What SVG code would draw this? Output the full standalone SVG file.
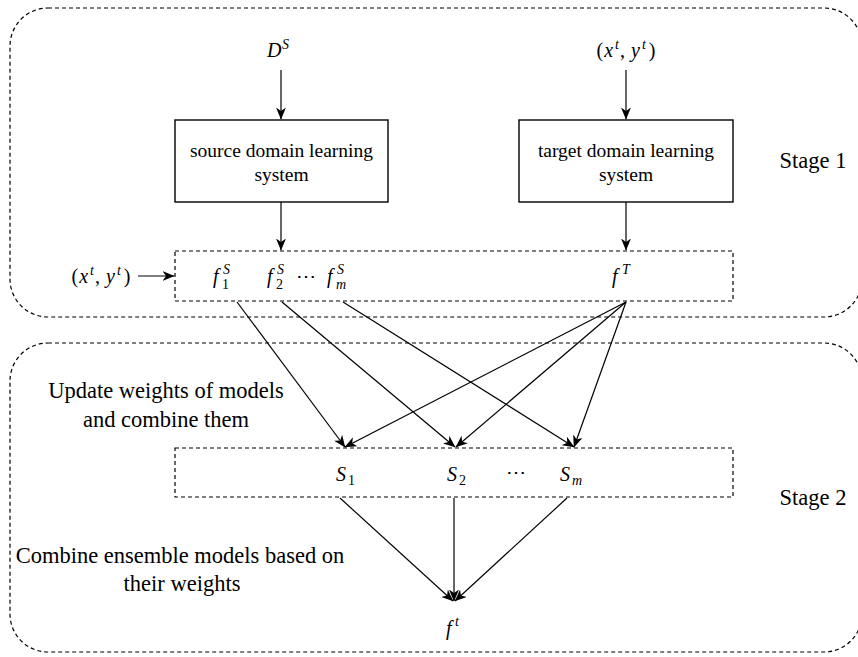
<svg xmlns="http://www.w3.org/2000/svg" width="858" height="657" viewBox="0 0 858 657">
<defs>
<marker id="ah" viewBox="0 0 12 10" refX="11.5" refY="5" markerWidth="12" markerHeight="10" markerUnits="userSpaceOnUse" orient="auto">
<path d="M0,0 L12,5 L0,10 L3.5,5 Z" fill="#000"/>
</marker>
</defs>
<style>
.stage{fill:none;stroke:#000;stroke-width:1.2;stroke-dasharray:4 3}
.dbox{fill:none;stroke:#000;stroke-width:1.2;stroke-dasharray:4 3}
.box{fill:#fff;stroke:#000;stroke-width:1.4}
.t{font-family:"Liberation Serif","Times New Roman",serif;font-size:19.5px;fill:#000;text-anchor:middle}
.l{font-family:"Liberation Serif","Times New Roman",serif;font-size:22.5px;fill:#000;text-anchor:middle}
.m{font-family:"Liberation Serif","Times New Roman",serif;font-style:italic;font-size:20px;fill:#000}
.n{font-style:normal}
.s{font-size:14px}
.c{fill:none;stroke:#000;stroke-width:1.2;marker-end:url(#ah)}
</style>
<g id="stage1">
<rect class="stage" x="10" y="8" width="852" height="309" rx="38" ry="38"/>
<text class="l" x="813" y="168">Stage 1</text>
</g>
<g id="stage2">
<rect class="stage" x="10" y="343" width="852" height="309" rx="38" ry="38"/>
<text class="l" x="813" y="505">Stage 2</text>
</g>
<g id="DS">
<text class="m" x="267" y="57">D<tspan class="s" x="282" y="49">S</tspan></text>
</g>
<g id="xy-top">
<text class="m" x="626" y="57" style="text-anchor:middle"><tspan class="n">(</tspan><tspan dx="1">x</tspan><tspan class="s" dx="2" dy="-8">t</tspan><tspan class="n" dx="1" dy="8">,</tspan><tspan dx="6">y</tspan><tspan class="s" dx="2" dy="-8">t</tspan><tspan class="n" dx="3" dy="8">)</tspan></text>
</g>
<g id="source">
<rect class="box" x="175" y="120" width="213" height="82"/>
<text class="t" x="281.5" y="157">source domain learning</text>
<text class="t" x="281.5" y="181">system</text>
</g>
<g id="target">
<rect class="box" x="519" y="120" width="214" height="82"/>
<text class="t" x="626" y="157">target domain learning</text>
<text class="t" x="626" y="181">system</text>
</g>
<g id="models">
<rect class="dbox" x="175" y="251" width="558" height="50"/>
<text class="m" x="213" y="283">f<tspan class="s" x="223" y="274">S</tspan><tspan class="s n" x="222" y="289">1</tspan></text>
<text class="m" x="267" y="283">f<tspan class="s" x="277" y="274">S</tspan><tspan class="s n" x="276" y="289">2</tspan><tspan class="n" x="296" y="283">⋯</tspan></text>
<text class="m" x="327" y="283">f<tspan class="s" x="337" y="274">S</tspan><tspan class="s" x="336" y="289">m</tspan></text>
<text class="m" x="612" y="283">f<tspan class="s" x="622" y="274">T</tspan></text>
</g>
<g id="xy-left">
<text class="m" x="101" y="283" style="text-anchor:middle"><tspan class="n">(</tspan><tspan dx="1">x</tspan><tspan class="s" dx="2" dy="-8">t</tspan><tspan class="n" dx="1" dy="8">,</tspan><tspan dx="6">y</tspan><tspan class="s" dx="2" dy="-8">t</tspan><tspan class="n" dx="3" dy="8">)</tspan></text>
</g>
<g id="ensembles">
<rect class="dbox" x="175" y="448" width="558" height="49"/>
<text class="m" x="336" y="481">S<tspan class="s n" x="348" y="485">1</tspan></text>
<text class="m" x="447" y="481">S<tspan class="s n" x="459" y="485">2</tspan></text>
<text class="m n" x="506" y="479">⋯</text>
<text class="m" x="560" y="481">S<tspan class="s" x="572" y="485">m</tspan></text>
</g>
<g id="ft">
<text class="m" x="446" y="635">f<tspan class="s" x="455" y="626">t</tspan></text>
</g>
<g id="labels">
<text class="l" x="166" y="398">Update weights of models</text>
<text class="l" x="166" y="427">and combine them</text>
<text class="l" x="180" y="563">Combine ensemble models based on</text>
<text class="l" x="182" y="591">their weights</text>
</g>
<g id="connectors">
<line class="c" x1="281" y1="70" x2="281" y2="119"/>
<line class="c" x1="626" y1="70" x2="626" y2="119"/>
<line class="c" x1="281" y1="202" x2="281" y2="250"/>
<line class="c" x1="626" y1="202" x2="626" y2="250"/>
<line class="c" x1="138" y1="276" x2="174" y2="276"/>
<line class="c" x1="237" y1="302" x2="345" y2="447"/>
<line class="c" x1="282" y1="302" x2="455" y2="447"/>
<line class="c" x1="343" y1="302" x2="574" y2="447"/>
<line class="c" x1="626" y1="302" x2="345" y2="447"/>
<line class="c" x1="626" y1="302" x2="456" y2="447"/>
<line class="c" x1="626" y1="302" x2="574" y2="447"/>
<line class="c" x1="340" y1="498" x2="453" y2="601"/>
<line class="c" x1="454" y1="498" x2="454" y2="601"/>
<line class="c" x1="567" y1="498" x2="455" y2="601"/>
</g>
</svg>
